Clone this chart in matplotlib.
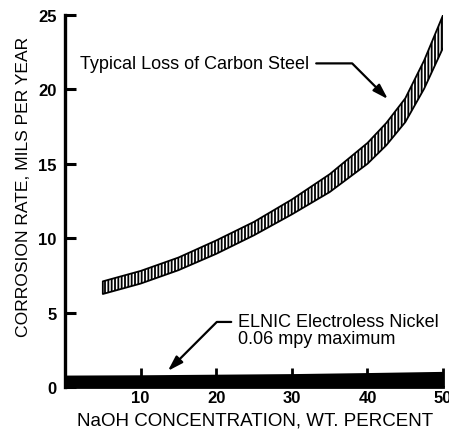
import numpy as np
import matplotlib
matplotlib.use("Agg")
import matplotlib.pyplot as plt

plt.rcParams['font.family'] = ['Liberation Sans', 'DejaVu Sans']
plt.rcParams['hatch.linewidth'] = 1.3

# Carbon steel loss band, mils per year
naoh_pct = [5, 10, 15, 20, 25, 30, 35, 40, 42.5, 45, 47.5, 50]
steel_upper = [7.1, 7.8, 8.7, 9.85, 11.1, 12.6, 14.3, 16.4, 17.75, 19.4, 21.95, 25.0]
steel_lower = [6.25, 6.95, 7.85, 8.95, 10.2, 11.6, 13.1, 15.0, 16.25, 17.8, 20.05, 22.8]

# Electroless nickel (drawn as a thick bar along the base, as in the original)
nickel_pct = [0, 10, 20, 30, 40, 50]
nickel_top = [0.8, 0.82, 0.86, 0.9, 0.97, 1.05]

x_ticks = [10, 20, 30, 40, 50]
y_ticks = [0, 5, 10, 15, 20, 25]

fig = plt.figure(figsize=(4.49, 4.31), dpi=100)
ax = fig.add_axes([0.1448, 0.0998, 0.842, 0.863])

# hatched band for carbon steel
ax.fill_between(naoh_pct, steel_lower, steel_upper, facecolor='white',
                edgecolor='black', hatch='|||||', linewidth=1.3)

# solid bar for electroless nickel
ax.fill_between(nickel_pct, 0, nickel_top, color='black', linewidth=0)

ax.set_xlim(0, 50)
ax.set_ylim(0, 25)
ax.set_xticks(x_ticks)
ax.set_yticks(y_ticks)

for side in ['top', 'right']:
    ax.spines[side].set_visible(False)
ax.spines['left'].set_linewidth(2.4)
ax.spines['bottom'].set_linewidth(2)

ax.tick_params(axis='y', direction='in', length=8, width=2.2, pad=6,
               labelsize=12)
ax.tick_params(axis='x', direction='in', length=13.5, width=2, pad=2,
               labelsize=12)
for lbl in ax.get_xticklabels() + ax.get_yticklabels():
    lbl.set_fontweight('bold')

ax.set_xlabel("NaOH CONCENTRATION, WT. PERCENT", fontsize=13.5)
ax.set_ylabel("CORROSION RATE, MILS PER YEAR", fontsize=12.6)
ax.xaxis.set_label_coords(0.503, -0.066)
ax.yaxis.set_label_coords(-0.09, 0.54)

# annotations
ax.annotate("Typical Loss of Carbon Steel", xy=(42.7, 19.35), xytext=(2.0, 21.75),
            fontsize=13, ha='left', va='center',
            arrowprops=dict(arrowstyle='-|>,head_length=0.7,head_width=0.22',
                            color='black', lw=1.6, shrinkA=3, shrinkB=0,
                            connectionstyle='angle,angleA=0,angleB=135,rad=0'))

ax.annotate("ELNIC Electroless Nickel\n0.06 mpy maximum", xy=(13.6, 1.08),
            xytext=(22.9, 3.8), fontsize=13, ha='left', va='center',
            linespacing=1.0,
            arrowprops=dict(arrowstyle='-|>,head_length=0.7,head_width=0.22',
                            color='black', lw=1.6, shrinkA=3, shrinkB=0,
                            relpos=(0, 0.75),
                            connectionstyle='angle,angleA=180,angleB=45,rad=0'))

fig.savefig("out.png", dpi=100)
